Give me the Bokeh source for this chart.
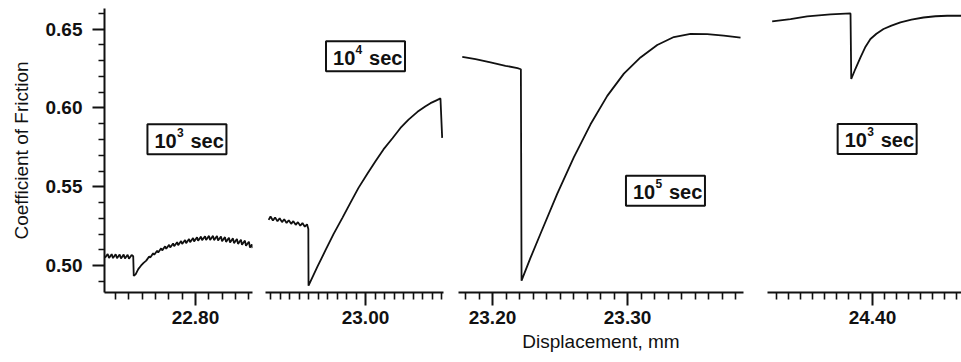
import numpy as np
from bokeh.plotting import figure
from bokeh.layouts import row
from bokeh.models import Range1d, FixedTicker, PrintfTickFormatter
from bokeh.core.properties import value
from bokeh.embed import file_html
from bokeh.resources import INLINE

FONT = "Liberation Sans"
INK = "#111111"

# ---- friction records: displacement (mm) vs coefficient of friction ----
# hold 1 (10^3 s): stick-slip before and after the hold
p1_x = [22.7320, 22.7340, 22.7350, 22.7370, 22.7380, 22.7400, 22.7410, 22.7430,
        22.7440, 22.7460, 22.7470, 22.7490, 22.7500, 22.7520, 22.7532,
        22.7536, 22.7550, 22.7570, 22.7590, 22.7610,
        22.7630, 22.7652, 22.7660, 22.7682, 22.7690, 22.7712, 22.7720, 22.7742,
        22.7750, 22.7772, 22.7780, 22.7802, 22.7810, 22.7832, 22.7840, 22.7862,
        22.7870, 22.7892, 22.7900, 22.7922, 22.7930, 22.7952, 22.7960, 22.7982,
        22.7990, 22.8012, 22.8020, 22.8042, 22.8050, 22.8072, 22.8080, 22.8102,
        22.8110, 22.8132, 22.8140, 22.8162, 22.8170, 22.8192, 22.8200, 22.8222,
        22.8230, 22.8252, 22.8260, 22.8282, 22.8290, 22.8312, 22.8320, 22.8342,
        22.8350, 22.8372, 22.8380, 22.8402, 22.8410, 22.8425, 22.8429]
p1_y = [0.5050, 0.5074, 0.5049, 0.5073, 0.5048, 0.5072, 0.5047, 0.5071,
        0.5046, 0.5070, 0.5045, 0.5069, 0.5044, 0.5068, 0.5060,
        0.4935, 0.4945, 0.4978, 0.5000, 0.5018,
        0.5032, 0.5058, 0.5052, 0.5078, 0.5069, 0.5095, 0.5084, 0.5110,
        0.5097, 0.5123, 0.5107, 0.5133, 0.5115, 0.5141, 0.5123, 0.5149,
        0.5130, 0.5156, 0.5137, 0.5163, 0.5143, 0.5169, 0.5149, 0.5175,
        0.5154, 0.5180, 0.5158, 0.5184, 0.5161, 0.5187, 0.5163, 0.5189,
        0.5163, 0.5189, 0.5162, 0.5188, 0.5159, 0.5185, 0.5155, 0.5181,
        0.5151, 0.5177, 0.5147, 0.5173, 0.5143, 0.5169, 0.5138, 0.5164,
        0.5133, 0.5159, 0.5126, 0.5152, 0.5115, 0.5135, 0.5112]

# hold 2 (10^4 s)
p2_x = [22.8980, 22.9000, 22.9025, 22.9048, 22.9073, 22.9096, 22.9121, 22.9144,
        22.9169, 22.9192, 22.9217, 22.9240, 22.9265, 22.9288, 22.9313, 22.9336,
        22.9361, 22.9384, 22.9398,
        22.9400, 22.9495, 22.9579, 22.9663, 22.9758, 22.9842, 22.9926,
        23.0021, 23.0105, 23.0189, 23.0284, 23.0368, 23.0453, 23.0547, 23.0632,
        23.0684, 23.0747, 23.0789, 23.0807]
p2_y = [0.5290, 0.5312, 0.5286, 0.5306, 0.5281, 0.5300, 0.5276, 0.5294,
        0.5271, 0.5288, 0.5265, 0.5282, 0.5259, 0.5276, 0.5253, 0.5270,
        0.5247, 0.5262, 0.5232,
        0.4873, 0.4995, 0.5098, 0.5200, 0.5305, 0.5400, 0.5493,
        0.5584, 0.5662, 0.5737, 0.5808, 0.5873, 0.5926, 0.5975, 0.6010,
        0.6030, 0.6048, 0.6060, 0.5810]

# hold 3 (10^5 s)
p3_x = [23.1776, 23.1874, 23.1985, 23.2096, 23.2185, 23.2210,
        23.2215, 23.2281, 23.2356, 23.2479, 23.2602, 23.2726, 23.2850, 23.2973,
        23.3096, 23.3220, 23.3343, 23.3467, 23.3590, 23.3713, 23.3837]
p3_y = [0.6324, 0.6309, 0.6288, 0.6267, 0.6252, 0.6245,
        0.4905, 0.5049, 0.5204, 0.5455, 0.5687, 0.5896, 0.6076, 0.6217,
        0.6320, 0.6399, 0.6449, 0.6469, 0.6468, 0.6458, 0.6445]

# hold 4 (10^3 s)
p4_x = [24.3164, 24.3317, 24.3456, 24.3650, 24.3817,
        24.3823, 24.3858, 24.3900, 24.3942, 24.3983, 24.4033, 24.4092, 24.4158,
        24.4233, 24.4325, 24.4425, 24.4525, 24.4623, 24.4742]
p4_y = [0.6548, 0.6563, 0.6580, 0.6593, 0.6599,
        0.6183, 0.6248, 0.6320, 0.6388, 0.6437, 0.6470, 0.6500, 0.6521,
        0.6542, 0.6559, 0.6573, 0.6581, 0.6584, 0.6584]

# hold-time tags: exponent of 10 and where each tag sits
hold_exp = ["3", "4", "5", "3"]
hold_x = [22.7936, 23.0000, 23.3281, 24.4039]
hold_y = [0.5802, 0.6328, 0.5475, 0.5803]

y_ticks = [0.50, 0.55, 0.60, 0.65]
x_major = [[22.80], [23.00], [23.20, 23.30], [24.40]]
x_span = [(22.7316, 22.8429), (22.8947, 23.0821), (23.1748, 23.3859), (24.3125, 24.4742)]

series = [(p1_x, p1_y), (p2_x, p2_y), (p3_x, p3_y), (p4_x, p4_y)]
# (figure width, left border, right border)
geometry = [(258, 104, 6), (192, 7, 7), (305, 8, 12), (206, 12, 0)]

y_range = Range1d(0.483, 0.663)


def minor_between(lo, hi, majors):
    vals = np.round(np.arange(np.ceil(lo * 100) / 100, hi + 1e-9, 0.01), 2)
    return [float(v) for v in vals if not any(abs(v - m) < 1e-6 for m in majors)]


def style_axis(ax):
    ax.axis_line_color = INK
    ax.axis_line_width = 2
    ax.major_tick_line_color = INK
    ax.minor_tick_line_color = INK
    ax.major_tick_line_width = 2
    ax.minor_tick_line_width = 1.6
    ax.major_tick_in = 0
    ax.minor_tick_in = 0
    ax.major_label_text_font = FONT
    ax.major_label_text_font_size = "19px"
    ax.major_label_text_font_style = "bold"
    ax.major_label_text_color = INK
    ax.axis_label_text_font = FONT
    ax.axis_label_text_font_size = "19px"
    ax.axis_label_text_font_style = "normal"
    ax.axis_label_text_color = INK


figs = []
for i, ((xs, ys), (w, lb, rb), span, majors) in enumerate(zip(series, geometry, x_span, x_major)):
    p = figure(width=w, height=362, x_range=Range1d(*span), y_range=y_range,
               toolbar_location=None, output_backend="svg",
               y_axis_location="left" if i == 0 else None,
               min_border_left=lb, min_border_right=rb,
               min_border_top=8, min_border_bottom=70)
    p.outline_line_color = None
    p.grid.visible = False
    p.background_fill_color = "white"
    p.border_fill_color = "white"

    xa = p.xaxis[0]
    xa.ticker = FixedTicker(ticks=majors, minor_ticks=minor_between(*span, majors))
    xa.formatter = PrintfTickFormatter(format="%.2f")
    style_axis(xa)
    xa.major_tick_out = 13
    xa.minor_tick_out = 7
    xa.major_label_standoff = 5
    if i == 2:
        xa.axis_label = "Displacement, mm"
        xa.axis_label_standoff = 4

    if i == 0:
        ya = p.yaxis[0]
        ya.ticker = FixedTicker(ticks=y_ticks,
                                minor_ticks=minor_between(0.483, 0.663, y_ticks))
        ya.formatter = PrintfTickFormatter(format="%.2f")
        style_axis(ya)
        ya.major_tick_out = 12
        ya.minor_tick_out = 6
        ya.major_label_standoff = 10
        ya.axis_label = "Coefficient of Friction"
        ya.axis_label_standoff = 11

    p.line(xs, ys, line_color=INK, line_width=1.8)

    # boxed hold-time tag "10^n sec"
    hx, hy = [hold_x[i]], [hold_y[i]]
    p.rect(x=hx, y=hy, width=79, height=30, width_units="screen", height_units="screen",
           fill_color="white", line_color=INK, line_width=2)
    p.text(x=hx, y=hy, text=["10"], x_offset=-32.5, y_offset=1.5,
           text_align="left", text_baseline="alphabetic", text_font=value(FONT),
           text_font_size="20px", text_font_style="bold", text_color=INK)
    p.text(x=hx, y=hy, text=[hold_exp[i]], x_offset=-10, y_offset=-7,
           text_align="left", text_baseline="alphabetic", text_font=value(FONT),
           text_font_size="12px", text_font_style="bold", text_color=INK)
    p.text(x=hx, y=hy, text=["sec"], x_offset=3.5, y_offset=1.5,
           text_align="left", text_baseline="alphabetic", text_font=value(FONT),
           text_font_size="20px", text_font_style="bold", text_color=INK)
    figs.append(p)

layout = row(*figs)
open("out.html", "w").write(file_html(layout, INLINE))
